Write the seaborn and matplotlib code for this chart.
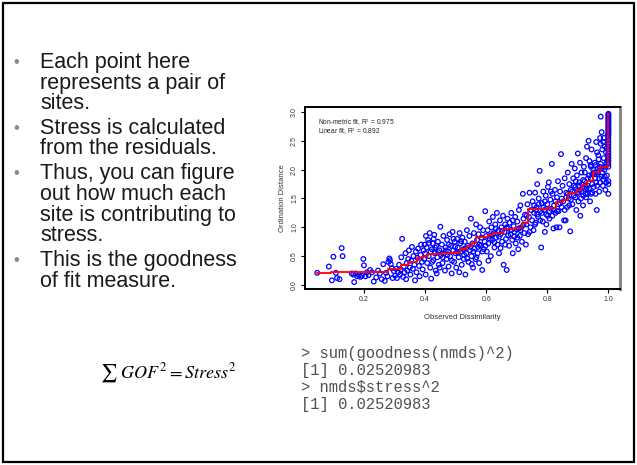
import matplotlib
matplotlib.use("Agg")
import matplotlib.pyplot as plt
import seaborn as sns
import pandas as pd
from matplotlib.patches import Rectangle

# ---------------- data ----------------
dissim_a = [0.047,0.085,0.095,0.100,0.108,0.112,0.120,0.127,0.130,0.160,
            0.165,0.168,0.172,0.178,0.183,0.188,0.193,0.198,0.200,0.205,
            0.210,0.215,0.220,0.226,0.232,0.240,0.246,0.252,0.258,0.263,
            0.268,0.272,0.277,0.280,0.283,0.285,0.288,0.291,0.294,0.298]
dist_a   = [0.21,0.32,0.08,0.49,0.21,0.12,0.10,0.64,0.50,0.20,
            0.18,0.05,0.20,0.15,0.17,0.14,0.16,0.45,0.34,0.15,
            0.22,0.17,0.26,0.22,0.06,0.13,0.25,0.20,0.10,0.36,
            0.07,0.21,0.15,0.40,0.46,0.43,0.36,0.29,0.12,0.24]

dissim_b = [0.302,0.305,0.308,0.312,0.315,0.318,0.320,0.322,0.325,0.328,
            0.330,0.333,0.336,0.338,0.340,0.342,0.345,0.347,0.350,0.352,
            0.355,0.357,0.360,0.362,0.365,0.367,0.370,0.372,0.375,0.377,
            0.380,0.382,0.385,0.387,0.390,0.392,0.395,0.397,0.400,0.402,
            0.405,0.407,0.410,0.412,0.415,0.417,0.420,0.422,0.425,0.427,
            0.430,0.432,0.435,0.437,0.440,0.442,0.445,0.447,0.450,0.452,
            0.413,0.418,0.423,0.428,0.433,0.438,0.443,0.448,0.403,0.398]
dist_b   = [0.16,0.28,0.12,0.22,0.35,0.18,0.27,0.48,0.80,0.14,
            0.32,0.22,0.55,0.10,0.38,0.25,0.45,0.60,0.30,0.18,
            0.42,0.66,0.28,0.50,0.35,0.08,0.58,0.22,0.47,0.63,
            0.33,0.15,0.52,0.70,0.40,0.27,0.60,0.45,0.55,0.18,
            0.65,0.38,0.78,0.50,0.90,0.30,0.11,0.62,0.72,0.43,
            0.87,0.55,0.25,0.68,0.48,0.75,0.35,0.60,1.01,0.52,
            0.73,0.58,0.40,0.80,0.65,0.20,0.57,0.30,0.85,0.70]

dissim_c = [0.455,0.457,0.460,0.462,0.465,0.467,0.470,0.472,0.475,0.477,
            0.480,0.482,0.485,0.487,0.490,0.492,0.495,0.497,0.500,0.502,
            0.505,0.507,0.510,0.512,0.515,0.517,0.520,0.522,0.525,0.527,
            0.530,0.532,0.535,0.537,0.540,0.542,0.545,0.547,0.550,0.552,
            0.555,0.557,0.560,0.562,0.565,0.567,0.570,0.572,0.575,0.577,
            0.580,0.582,0.585,0.587,0.590,0.592,0.595,0.597,0.600,0.458,
            0.468,0.478,0.488,0.498,0.508,0.518,0.528,0.538,0.548,0.558,
            0.568,0.578,0.588,0.598,0.473,0.493,0.513,0.533,0.553,0.573]
dist_c   = [0.70,0.38,0.85,0.55,0.25,0.65,0.45,0.78,0.58,0.32,
            0.88,0.50,0.68,0.20,0.92,0.60,0.40,0.75,0.55,0.30,
            0.80,0.65,0.48,0.22,0.72,0.58,0.35,0.82,0.62,0.45,
            0.75,0.18,0.55,0.95,0.68,0.40,0.85,0.60,1.15,0.50,
            0.72,0.30,0.90,0.63,0.45,1.05,0.78,0.55,0.88,0.38,
            1.00,0.68,0.82,0.26,0.95,0.62,0.75,1.28,0.85,0.48,
            0.60,0.70,0.42,0.66,0.56,0.76,0.52,0.46,0.66,0.58,
            0.48,0.70,0.58,0.68,0.52,0.80,0.90,0.64,0.36,0.66]

dissim_d = [0.602,0.605,0.607,0.610,0.612,0.615,0.617,0.620,0.622,0.625,
            0.627,0.630,0.632,0.635,0.637,0.640,0.642,0.645,0.647,0.650,
            0.652,0.655,0.657,0.660,0.662,0.665,0.667,0.670,0.672,0.675,
            0.677,0.680,0.682,0.685,0.687,0.690,0.692,0.695,0.697,0.700,
            0.702,0.705,0.707,0.710,0.712,0.715,0.717,0.720,0.722,0.725,
            0.727,0.730,0.732,0.735,0.737,0.740,0.742,0.745,0.747,0.750,
            0.612,0.622,0.632,0.642,0.652,0.662,0.672,0.682,0.692,0.702,
            0.712,0.722,0.732,0.742,0.607,0.627,0.647,0.667,0.687,0.707]
dist_d   = [0.58,0.95,0.72,1.10,0.85,0.50,1.00,0.78,1.18,0.90,
            0.65,1.05,0.82,1.25,0.70,0.95,0.55,1.12,0.88,1.00,
            0.75,1.20,0.35,0.92,1.05,0.80,0.26,1.15,0.98,0.68,
            1.08,0.88,1.25,0.78,0.55,1.02,0.92,1.18,0.72,0.96,
            1.10,0.62,1.30,0.85,1.38,1.00,0.75,1.58,1.15,0.90,
            1.22,0.70,1.05,1.40,0.88,1.18,1.60,1.00,1.30,1.12,
            0.80,0.88,0.98,0.84,0.94,0.70,0.86,0.95,0.84,0.82,
            0.95,1.04,1.20,0.92,0.42,0.74,0.64,1.00,1.12,0.98]

dissim_e = [0.752,0.755,0.757,0.760,0.762,0.765,0.767,0.770,0.772,0.775,
            0.777,0.780,0.782,0.785,0.787,0.790,0.792,0.795,0.797,0.800,
            0.802,0.805,0.807,0.810,0.812,0.815,0.817,0.820,0.822,0.825,
            0.827,0.830,0.832,0.835,0.837,0.840,0.842,0.845,0.847,0.850,
            0.757,0.767,0.777,0.787,0.797,0.807,0.817,0.827,0.837,0.847,
            0.762,0.772,0.782,0.792,0.802,0.812,0.822,0.832,0.842,0.760]
dist_e   = [1.45,0.95,1.25,1.60,1.08,1.35,1.75,1.18,1.50,1.98,
            1.28,0.65,1.42,1.10,1.62,1.30,0.92,1.55,1.22,1.40,
            1.70,1.78,1.15,1.48,1.32,2.10,1.58,0.98,1.38,1.65,
            1.25,1.00,1.52,1.80,1.40,1.00,1.62,2.27,1.35,1.72,
            1.38,1.22,1.12,1.34,1.05,1.28,1.20,1.45,1.28,1.50,
            1.30,1.40,1.25,1.45,1.20,1.62,1.30,1.28,1.42,1.05]

dissim_f = [0.852,0.855,0.857,0.860,0.862,0.865,0.867,0.870,0.872,0.875,
            0.877,0.880,0.882,0.885,0.887,0.890,0.892,0.895,0.897,0.900,
            0.902,0.905,0.907,0.910,0.912,0.915,0.917,0.920,0.922,0.925,
            0.927,0.930,0.932,0.935,0.937,0.940,0.942,0.945,0.947,0.950,
            0.862,0.872,0.882,0.892,0.902,0.912,0.922,0.932,0.942,0.857,
            0.867,0.877,0.887,0.897,0.907,0.917,0.927,0.937,0.947,0.908,
            0.913,0.918,0.923,0.928,0.933,0.938,0.943,0.948,0.903,0.893]
dist_f   = [1.45,1.12,1.85,1.12,1.60,1.35,1.95,1.50,1.75,0.93,
            1.65,2.10,1.40,1.85,1.55,2.02,1.70,1.30,1.90,2.28,
            1.60,1.78,2.12,1.50,1.95,1.68,1.38,2.05,1.80,1.58,
            2.20,2.40,1.72,2.50,1.90,1.45,2.08,2.35,1.75,2.00,
            1.52,1.38,1.62,1.52,1.45,1.62,1.70,1.58,1.85,1.30,
            1.58,1.48,1.72,1.60,1.65,1.82,1.52,1.68,1.60,1.20,
            1.75,1.55,1.95,1.68,1.85,2.15,1.58,1.92,1.72,1.80]

dissim_g = [0.952,0.955,0.957,0.960,0.962,0.965,0.967,0.970,0.972,0.975,
            0.977,0.980,0.982,0.985,0.987,0.990,0.992,0.995,0.997,0.975,
            0.955,0.960,0.965,0.970,0.975,0.980,0.985,0.990,0.995,0.958,
            0.963,0.968,0.973,0.978,0.983,0.988,0.993,0.998,0.953,0.963,
            0.968,0.978,0.988,0.998,0.983,0.993,0.973,0.958,0.948,0.943]
dist_g   = [1.70,2.12,1.85,2.48,1.30,1.95,2.25,1.62,2.05,2.92,
            1.88,2.35,1.72,2.55,2.00,1.65,2.30,1.90,2.15,2.45,
            1.92,1.78,2.02,1.85,2.10,1.95,2.20,2.05,2.38,1.58,
            1.72,2.18,1.78,2.02,1.82,2.40,2.10,2.60,1.95,2.30,
            1.98,2.65,1.88,2.25,2.48,1.78,2.55,2.08,1.92,2.05]

dissim_h = [1.0] * 30
dist_h   = [1.58,1.75,1.80,2.05,2.10,2.15,2.20,2.25,2.30,2.35,
            2.40,2.45,2.50,2.55,2.60,2.62,2.65,2.68,2.70,2.72,
            2.75,2.78,2.80,2.83,2.85,2.88,2.90,2.93,2.95,2.97]

# monotone (non-metric) fit, step positions and levels
fit_x = [0.047,0.093,0.279,0.320,0.344,0.372,0.393,0.410,0.454,0.514,
         0.536,0.552,0.568,0.607,0.623,0.656,0.694,0.716,0.738,0.798,
         0.828,0.852,0.869,0.896,0.913,0.929,0.949,0.973,1.0,1.0]
fit_y = [0.20,0.225,0.27,0.34,0.40,0.47,0.50,0.53,0.55,0.62,
         0.68,0.73,0.83,0.86,0.91,0.97,0.99,1.08,1.31,1.33,
         1.44,1.47,1.59,1.65,1.73,1.80,1.96,2.05,2.05,2.97]

x_ticks = [0.2, 0.4, 0.6, 0.8, 1.0]
y_ticks = [0.0, 0.5, 1.0, 1.5, 2.0, 2.5, 3.0]

bullets = [
    ["Each point here", "represents a pair of", "sites."],
    ["Stress is calculated", "from the residuals."],
    ["Thus, you can figure", "out how much each", "site is contributing to", "stress."],
    ["This is the goodness", "of fit measure."],
]
code_lines = ["> sum(goodness(nmds)^2)", "[1] 0.02520983",
              "> nmds$stress^2", "[1] 0.02520983"]

# ---------------- figure ----------------
W, H = 637, 465
fig = plt.figure(figsize=(W / 100, H / 100), dpi=100)
fig.patch.set_facecolor("white")
plt.rcParams["font.family"] = ["Liberation Sans", "DejaVu Sans"]
plt.rcParams["mathtext.fontset"] = "stix"

# slide border
fig.add_artist(Rectangle((3 / W, 3 / H), 631 / W, 459 / H, transform=fig.transFigure,
                         fill=False, edgecolor="black", linewidth=1.6))

def fy(py):
    return 1 - py / H

# bullet text
line_y = [[62, 83, 103], [128, 148], [173, 194, 215, 235], [260, 281]]
for lines, ys in zip(bullets, line_y):
    fig.text(13 / W, fy(ys[0] + 5), "\u2022", color="#8c8c8c", fontsize=12,
             ha="left", va="baseline")
    for t, y in zip(lines, ys):
        fig.text(40 / W, fy(y + 6), t, color="#1a1a1a", fontsize=15.5,
                 ha="left", va="baseline")

# formula
fig.text(100 / W, fy(373), r"$\sum\ GOF^2 = Stress^2$", fontsize=13,
         ha="left", va="center", color="black")

# code output
for i, t in enumerate(code_lines):
    fig.text(301 / W, fy(353 + 17 * i), t, family="Liberation Mono",
             fontsize=11.2, color="#505050", ha="left", va="center")

# ---------------- Shepard plot ----------------
ax = fig.add_axes([305 / W, 1 - 289 / H, 315 / W, 182 / H])
pts = pd.DataFrame({
    "dissim": dissim_a + dissim_b + dissim_c + dissim_d + dissim_e + dissim_f + dissim_g + dissim_h,
    "dist": dist_a + dist_b + dist_c + dist_d + dist_e + dist_f + dist_g + dist_h,
})
sns.scatterplot(data=pts, x="dissim", y="dist", ax=ax, marker="o", s=11,
                facecolors="none", edgecolor="#0000ff", linewidth=0.9, zorder=2)
fit = pd.DataFrame({"x": fit_x, "y": fit_y})
sns.lineplot(data=fit, x="x", y="y", ax=ax, color="#ff0000", linewidth=1.3,
             drawstyle="steps-post", estimator=None, sort=False, zorder=3)

ax.set_xlim(0.007, 1.038)
ax.set_ylim(-0.07, 3.087)
ax.set_xticks(x_ticks)
ax.set_xticklabels([f"{v:.1f}" for v in x_ticks])
ax.set_yticks(y_ticks)
ax.set_yticklabels([f"{v:.1f}" for v in y_ticks], rotation=90, va="center")
ax.tick_params(axis="both", labelsize=5, colors="black", labelcolor="#333333",
               length=3, width=0.8, pad=2)
for side in ["left", "bottom", "top"]:
    ax.spines[side].set_color("black")
    ax.spines[side].set_linewidth(1.4)
ax.spines["right"].set_color("#888888")
ax.spines["right"].set_linewidth(2.2)
ax.set_xlabel("Observed Dissimilarity", fontsize=5.5, color="#333333", labelpad=8)
ax.set_ylabel("Ordination Distance", fontsize=5.5, color="#333333", labelpad=4)
ax.text(0.04, 0.915, r"Non-metric fit, R$^2$ = 0.975", transform=ax.transAxes,
        fontsize=4.8, color="#222222", ha="left", va="center")
ax.text(0.04, 0.865, r"Linear fit, R$^2$ = 0.892", transform=ax.transAxes,
        fontsize=4.8, color="#222222", ha="left", va="center")

fig.savefig("out.png", dpi=100)
